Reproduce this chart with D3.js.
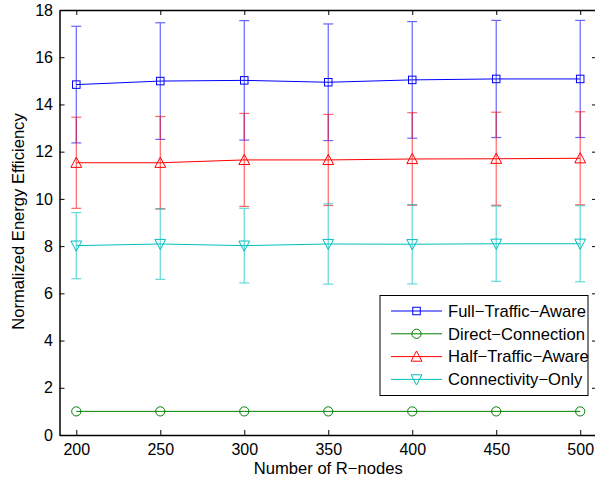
<!DOCTYPE html>
<html>
<head>
<meta charset="utf-8">
<script src="https://cdn.jsdelivr.net/npm/d3@7"></script>
<style>
  html, body { margin: 0; padding: 0; background: #fff; }
  svg { display: block; }
  text { font-family: "Liberation Sans", Arial, Helvetica, sans-serif; fill: #000; }
</style>
</head>
<body>
<svg id="chart" width="595" height="483"></svg>
<script>
// Number of R-nodes
const nodes = [200, 250, 300, 350, 400, 450, 500];

// Mean normalized energy efficiency per scheme
const fullMean = [14.84, 14.99, 15.02, 14.94, 15.04, 15.08, 15.08];
const directMean = [1, 1, 1, 1, 1, 1, 1];
const halfMean = [11.53, 11.53, 11.65, 11.65, 11.69, 11.70, 11.72];
const connMean = [8.02, 8.09, 8.02, 8.09, 8.08, 8.10, 8.10];

// Half-width of the error bars
const fullErr = [2.47, 2.47, 2.53, 2.47, 2.47, 2.48, 2.48];
const directErr = [0, 0, 0, 0, 0, 0, 0];
const halfErr = [1.93, 1.96, 1.97, 1.93, 1.96, 1.97, 1.97];
const connErr = [1.40, 1.50, 1.58, 1.70, 1.68, 1.59, 1.61];

const seriesNames = ["Full\u2212Traffic\u2212Aware", "Direct\u2212Connection", "Half\u2212Traffic\u2212Aware", "Connectivity\u2212Only"];
const seriesColors = ["#0000ff", "#008000", "#ff0000", "#00bfbf"];
const seriesMarkers = ["square", "circle", "triangleUp", "triangleDown"];

const xTicks = [200, 250, 300, 350, 400, 450, 500];
const yTicks = [0, 2, 4, 6, 8, 10, 12, 14, 16, 18];

const series = [
  { name: seriesNames[0], mean: fullMean, err: fullErr, color: seriesColors[0], marker: seriesMarkers[0] },
  { name: seriesNames[1], mean: directMean, err: directErr, color: seriesColors[1], marker: seriesMarkers[1] },
  { name: seriesNames[2], mean: halfMean, err: halfErr, color: seriesColors[2], marker: seriesMarkers[2] },
  { name: seriesNames[3], mean: connMean, err: connErr, color: seriesColors[3], marker: seriesMarkers[3] }
];

const svg = d3.select("#chart");
const plotLeft = 59.5, plotRight = 597, plotTop = 10, plotBottom = 435;
const tickFont = 16, labelFont = 16.6;

const x = d3.scaleLinear().domain([190, 510]).range([plotLeft, plotRight]);
const y = d3.scaleLinear().domain([0, 18]).range([plotBottom, plotTop]);

// Draw a marker shape centred at (cx, cy)
function drawMarker(g, type, cx, cy, color) {
  if (type === "square") {
    const s = 7.5;
    g.append("rect").attr("x", cx - s / 2).attr("y", cy - s / 2).attr("width", s).attr("height", s)
      .attr("fill", "none").attr("stroke", color).attr("stroke-width", 1);
  } else if (type === "circle") {
    g.append("circle").attr("cx", cx).attr("cy", cy).attr("r", 4.6)
      .attr("fill", "none").attr("stroke", color).attr("stroke-width", 1);
  } else if (type === "triangleUp") {
    const h = 4.6;
    g.append("path").attr("d", `M${cx},${cy - h - 1}L${cx + h + 0.8},${cy + h}L${cx - h - 0.8},${cy + h}Z`)
      .attr("fill", "none").attr("stroke", color).attr("stroke-width", 1);
  } else {
    const h = 4.6;
    g.append("path").attr("d", `M${cx},${cy + h + 1}L${cx + h + 0.8},${cy - h}L${cx - h - 0.8},${cy - h}Z`)
      .attr("fill", "none").attr("stroke", color).attr("stroke-width", 1);
  }
}

// Series: error bars, connecting line, markers
const line = d3.line().x((d, i) => x(nodes[i])).y(d => y(d));
series.forEach(s => {
  const g = svg.append("g");
  const eb = g.append("g").attr("stroke", s.color).attr("stroke-width", 1.2).attr("opacity", 0.6);
  s.mean.forEach((m, i) => {
    if (s.err[i] <= 0) return;
    const cx = x(nodes[i]);
    const y1 = y(m + s.err[i]), y2 = y(m - s.err[i]);
    eb.append("line").attr("x1", cx).attr("x2", cx).attr("y1", y1).attr("y2", y2);
    eb.append("line").attr("x1", cx - 5).attr("x2", cx + 5).attr("y1", y1).attr("y2", y1);
    eb.append("line").attr("x1", cx - 5).attr("x2", cx + 5).attr("y1", y2).attr("y2", y2);
  });
  g.append("path").datum(s.mean).attr("d", line).attr("fill", "none")
    .attr("stroke", s.color).attr("stroke-width", 1);
  s.mean.forEach((m, i) => drawMarker(g, s.marker, x(nodes[i]), y(m), s.color));
});

// Axes box with inward ticks on all four sides
const axisG = svg.append("g");
const tl = 5;
const fmt = d3.format("d");
axisG.append("g").attr("transform", `translate(0,${plotBottom})`)
  .call(d3.axisBottom(x).tickValues(xTicks).tickSizeInner(-tl).tickSizeOuter(0).tickPadding(8.5).tickFormat(fmt));
axisG.append("g").attr("transform", `translate(0,${plotTop})`)
  .call(d3.axisTop(x).tickValues(xTicks).tickSizeInner(-tl).tickSizeOuter(0).tickFormat(""));
axisG.append("g").attr("transform", `translate(${plotLeft},0)`)
  .call(d3.axisLeft(y).tickValues(yTicks).tickSizeInner(-tl).tickSizeOuter(0).tickPadding(6.5).tickFormat(fmt));
axisG.append("g").attr("transform", `translate(${plotRight},0)`)
  .call(d3.axisRight(y).tickValues(yTicks).tickSizeInner(-tl).tickSizeOuter(0).tickFormat(""));
axisG.selectAll(".domain").attr("stroke", "#000").attr("stroke-width", 1.5);
axisG.selectAll(".tick line").attr("stroke", "#000").attr("stroke-width", 1);
axisG.selectAll(".tick text").attr("font-size", tickFont).attr("font-family", "Liberation Sans, Arial, sans-serif").attr("fill", "#000");

// Axis titles
svg.append("text").attr("x", (plotLeft + plotRight) / 2).attr("y", 474).attr("text-anchor", "middle")
  .attr("font-size", labelFont).text("Number of R\u2212nodes");
svg.append("text").attr("transform", `translate(24,${(plotTop + plotBottom) / 2 - 1}) rotate(-90)`)
  .attr("text-anchor", "middle").attr("font-size", labelFont).text("Normalized Energy Efficiency");

// Legend
const lg = svg.append("g");
lg.append("rect").attr("x", 380).attr("y", 295.5).attr("width", 208).attr("height", 100)
  .attr("fill", "#fff").attr("stroke", "#000").attr("stroke-width", 1);
series.forEach((s, i) => {
  const ly = 311 + i * 22.8;
  lg.append("line").attr("x1", 391).attr("x2", 442).attr("y1", ly).attr("y2", ly)
    .attr("stroke", s.color).attr("stroke-width", 1);
  drawMarker(lg, s.marker, 416.5, ly, s.color);
  lg.append("text").attr("x", 448).attr("y", ly + 5.8).attr("font-size", labelFont).text(s.name);
});
</script>
</body>
</html>
